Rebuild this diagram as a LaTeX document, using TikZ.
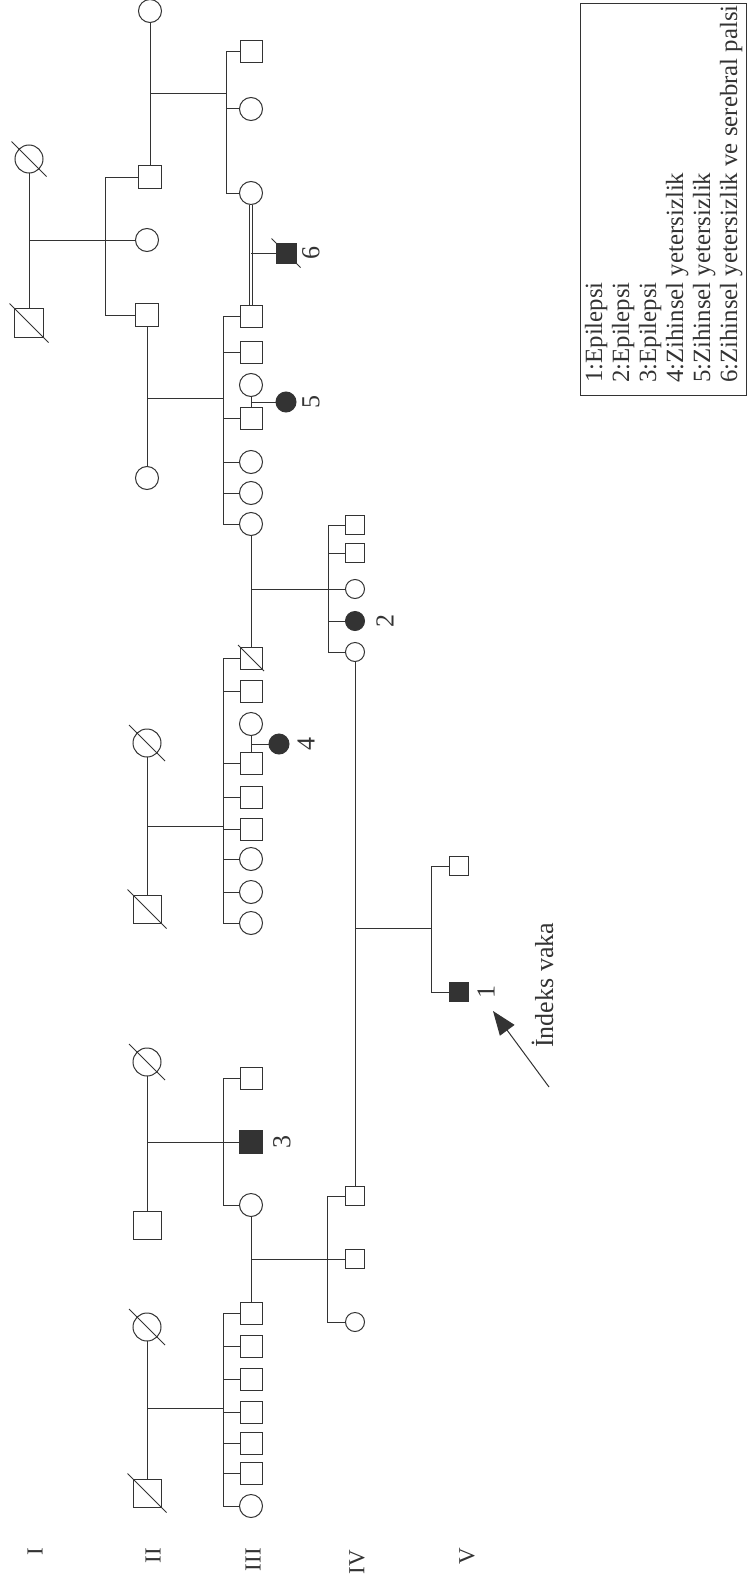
\documentclass[tikz,border=0pt]{standalone}
\usepackage{fontspec}
\setmainfont{Liberation Serif}
\usetikzlibrary{arrows.meta,calc}
\definecolor{ink}{HTML}{333333}
\newcommand{\decd}[2]{\draw[ln] ([shift={(-#2,-#2)}]#1.center) -- ([shift={(#2,#2)}]#1.center);}
\tikzset{
  ln/.style={draw=ink, line width=1pt},
  sq/.style={draw=ink, line width=1pt, rectangle, minimum size=#1, inner sep=0pt, outer sep=0pt, fill=white},
  ci/.style={draw=ink, line width=1pt, circle, minimum size=#1, inner sep=0pt, outer sep=0pt, fill=white},
  aff/.style={fill=ink},
  lbl/.style={rotate=90, inner sep=0pt, text=ink, font=\fontsize{26}{26}\selectfont},
  gen/.style={rotate=90, inner sep=0pt, text=ink, anchor=east, font=\fontsize{23}{23}\selectfont},
  legtxt/.style={rotate=90, inner sep=0pt, text=ink, anchor=base west, font=\fontsize{24.8}{27}\selectfont},
}
\begin{document}
\begin{tikzpicture}[x=1pt,y=-1pt]
\useasboundingbox (0,0) rectangle (748,1584);
% sibship x positions
\coordinate (s1) at (105,0);
\coordinate (s2) at (226,0);
\coordinate (s3) at (223,0);
\coordinate (s4) at (328,0);
\coordinate (s5) at (431,0);
\coordinate (s6) at (327,0);

% ---------------- Family 1 ----------------
\node[ci=28] (a1) at (29,159) {};
\node[sq=29] (a2) at (29,323) {};
\node[ci=23] (b1) at (150,11) {};
\node[sq=23] (b2) at (150,177) {};
\node[ci=23] (b3) at (147,240) {};
\node[sq=23] (b4) at (147,315) {};
\node[ci=23] (b5) at (147,478) {};
\node[sq=22] (c1) at (251,52) {};
\node[ci=23] (c2) at (251,109) {};
\node[ci=23] (c3) at (251,193) {};
\node[sq=22] (d1) at (251,316) {};
\node[sq=22] (d2) at (251,352) {};
\node[ci=23] (d3) at (251,385) {};
\node[sq=22] (d4) at (251,418) {};
\node[ci=23] (d5) at (251,462) {};
\node[ci=23] (d6) at (251,493) {};
\node[ci=23] (d7) at (251,524) {};
\node[sq=20,aff] (e6) at (286,253) {};
\node[ci=20,aff] (e5) at (286,402) {};
\node[sq=19] (g1) at (355,525) {};
\node[sq=19] (g2) at (355,553) {};
\node[ci=19] (g3) at (355,589) {};
\node[ci=19,aff] (g4) at (355,621) {};
\node[ci=19] (g5) at (355,652) {};
\node[sq=19] (i1) at (459,866) {};
\node[sq=19,aff] (i2) at (459,992) {};

\decd{a1}{17.5}
\decd{a2}{19.5}
\decd{e6}{14.5}

\draw[ln] (a1) -- (a2);
\coordinate (m0) at (29,240);
\draw[ln] (m0) -- (b3.west);
\draw[ln] (b2.west) -| (b4.west -| s1) -- (b4.west);

\draw[ln] (b1) -- (b2);
\coordinate (m1) at (150,94);
\draw[ln] (m1) -- (m1 -| s2);
\draw[ln] (c1.west) -| (c3.west -| s2) -- (c3.west);
\draw[ln] (c2.west) -- (c2.west -| s2);

\draw[ln] (b4) -- (b5);
\coordinate (m2) at (147,398);
\draw[ln] (m2) -- (m2 -| s3);
\draw[ln] (d1.west) -| (d7.west -| s3) -- (d7.west);
\foreach \n in {d2,d4,d5,d6} \draw[ln] (\n.west) -- (\n.west -| s3);

\draw[ln, double=white, double distance=2.4pt] (c3) -- (d1);
\coordinate (m4) at (251,253);
\draw[ln] (m4) -- (e6);

\draw[ln] (d3) -- (d4);
\coordinate (m3) at (251,402);
\draw[ln] (m3) -- (e5);

% ---------------- Family 2 ----------------
\node[ci=28] (p1) at (147,743) {};
\node[sq=28] (p2) at (147,909) {};
\node[sq=22] (f1) at (251,658) {};
\node[sq=22] (f2) at (251,691) {};
\node[ci=23] (f3) at (251,724) {};
\node[sq=22] (f4) at (251,763) {};
\node[sq=22] (f5) at (251,797) {};
\node[sq=22] (f6) at (251,829) {};
\node[ci=23] (f7) at (251,859) {};
\node[ci=23] (f8) at (251,892) {};
\node[ci=23] (f9) at (251,923) {};
\node[ci=20,aff] (e4) at (279,744) {};
\decd{p1}{18}
\decd{p2}{19.5}
\decd{f1}{13}

\draw[ln] (p1) -- (p2);
\coordinate (m7) at (147,826);
\draw[ln] (m7) -- (m7 -| s3);
\draw[ln] (f1.west) -| (f9.west -| s3) -- (f9.west);
\foreach \n in {f2,f4,f5,f6,f7,f8} \draw[ln] (\n.west) -- (\n.west -| s3);
\draw[ln] (f3) -- (f4);
\coordinate (m8) at (251,744);
\draw[ln] (m8) -- (e4);

% d7 x f1
\draw[ln] (d7) -- (f1);
\coordinate (m5) at (251,589);
\draw[ln] (m5) -- (g3.west);
\draw[ln] (g1.west) -| (g5.west -| s4) -- (g5.west);
\foreach \n in {g2,g4} \draw[ln] (\n.west) -- (\n.west -| s4);

% ---------------- Family 3 ----------------
\node[ci=28] (q1) at (147,1062) {};
\node[sq=28] (q2) at (147,1225) {};
\node[sq=22] (r1) at (251,1078) {};
\node[sq=23,aff] (r2) at (251,1142) {};
\node[ci=23] (r3) at (251,1205) {};
\node[sq=19] (h1) at (355,1196) {};
\node[sq=19] (h2) at (355,1259) {};
\node[ci=19] (h3) at (355,1322) {};
\decd{q1}{18}

\draw[ln] (q1) -- (q2);
\coordinate (m9) at (147,1142);
\draw[ln] (m9) -- (r2.west);
\draw[ln] (r1.west) -| (r3.west -| s3) -- (r3.west);

% ---------------- Family 4 ----------------
\node[ci=28] (u1) at (147,1327) {};
\node[sq=28] (u2) at (147,1493) {};
\node[sq=22] (t1) at (251,1313) {};
\node[sq=22] (t2) at (251,1346) {};
\node[sq=22] (t3) at (251,1379) {};
\node[sq=22] (t4) at (251,1412) {};
\node[sq=22] (t5) at (251,1443) {};
\node[sq=22] (t6) at (251,1473) {};
\node[ci=23] (t7) at (251,1506) {};
\decd{u1}{18}
\decd{u2}{19.5}

\draw[ln] (u1) -- (u2);
\coordinate (m11) at (147,1408);
\draw[ln] (m11) -- (m11 -| s3);
\draw[ln] (t1.west) -| (t7.west -| s3) -- (t7.west);
\foreach \n in {t2,t3,t4,t5,t6} \draw[ln] (\n.west) -- (\n.west -| s3);

% r3 x t1
\draw[ln] (r3) -- (t1);
\coordinate (m10) at (251,1259);
\draw[ln] (m10) -- (h2.west);
\draw[ln] (h1.west) -| (h3.west -| s6) -- (h3.west);

% g5 x h1
\draw[ln] (g5) -- (h1);
\coordinate (m6) at (355,928);
\draw[ln] (m6) -- (m6 -| s5);
\draw[ln] (i1.west) -| (i2.west -| s5) -- (i2.west);

% ---------------- labels ----------------
\node[lbl] (l6) at (311,253) {6};
\node[lbl] (l5) at (311,402) {5};
\node[lbl] (l4) at (306,744) {4};
\node[lbl] (l3) at (282,1142) {3};
\node[lbl] (l2) at (385,621) {2};
\node[lbl] (l1) at (486,992) {1};
\node[lbl, anchor=base west] (idx) at (553,1048) {İndeks vaka};
\coordinate (arS) at (549,1087);
\coordinate (arT) at (493,1011);
\draw[ln, -{Triangle[length=24pt,width=18pt]}] (arS) -- (arT);

\node[gen] (gI) at (35,1548) {I};
\node[gen] (gII) at (153,1548) {II};
\node[gen] (gIII) at (253,1548) {III};
\node[gen] (gIV) at (357,1550) {IV};
\node[gen] (gV) at (467,1548) {V};

% ---------------- legend ----------------
\node[draw=ink, line width=1pt, minimum width=166pt, minimum height=391pt, inner sep=0pt] (leg) at (663,199.5) {};
\node[legtxt] (k1) at (602,383) {1:Epilepsi};
\node[legtxt] (k2) at (629,383) {2:Epilepsi};
\node[legtxt] (k3) at (656,383) {3:Epilepsi};
\node[legtxt] (k4) at (683,383) {4:Zihinsel yetersizlik};
\node[legtxt] (k5) at (710,383) {5:Zihinsel yetersizlik};
\node[legtxt] (k6) at (737,383) {6:Zihinsel yetersizlik ve serebral palsi};
\end{tikzpicture}
\end{document}
